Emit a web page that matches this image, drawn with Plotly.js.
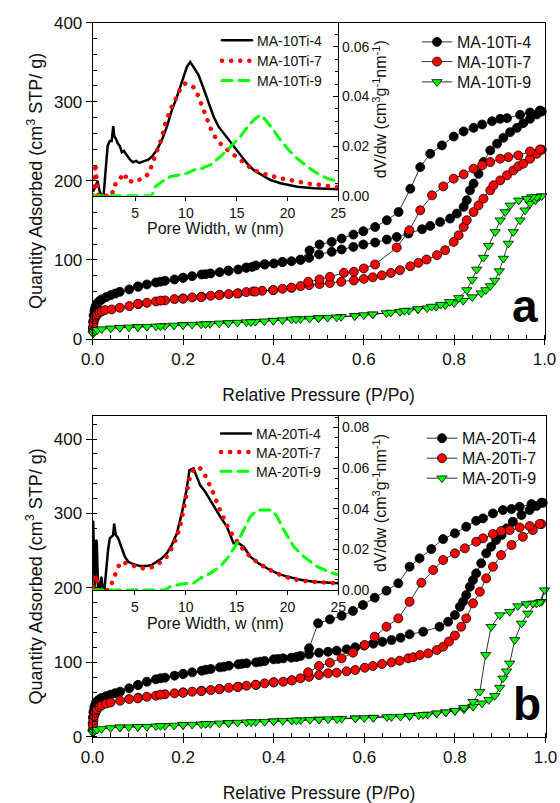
<!DOCTYPE html>
<html>
<head>
<meta charset="utf-8">
<script src="https://cdn.plot.ly/plotly-3.0.1.min.js"></script>
<style>
html,body{margin:0;padding:0;background:#fff;}
#chart{width:560px;height:803px;}
path.js-line{stroke-linecap:round;}
</style>
</head>
<body>
<div id="chart"></div>
<script>
// ---------- Panel (a): MA-10Ti isotherms ----------
const a4_ads_x = [0.0005,0.001,0.002,0.004,0.006,0.008,0.01,0.015,0.02,0.03,0.04,0.05,0.06,0.081,0.101,0.120,0.140,0.160,0.181,0.200,0.220,0.241,0.261,0.281,0.301,0.322,0.340,0.353,0.361,0.381,0.401,0.420,0.440,0.460,0.479,0.501,0.529,0.551,0.577,0.599,0.625,0.651,0.673,0.699,0.729,0.747,0.769,0.791,0.806,0.821,0.828,0.835,0.843,0.854,0.865,0.880,0.895,0.909,0.924,0.939,0.953,0.968,0.983,0.994];
const a4_ads_y = [14,22,30,36,40,43,45,48,50,53,55.5,57.5,59.7,62.7,66.0,69.0,71.5,73.6,75.3,77.4,79.5,81.6,82.9,84.5,86.2,87.9,90.0,91.2,93.0,94.2,95.5,97.2,98.4,100.0,102.6,107.0,110.2,113.2,116.5,119.5,122.0,125.8,129.1,133.4,138.8,143.0,148.0,152.3,158.6,167.0,175.4,188.0,196.5,209.0,223.7,238.5,247.0,254.5,261.6,267.0,273.0,278.5,284.0,287.7];
const a4_des_x = [0.990,0.968,0.946,0.917,0.902,0.884,0.862,0.843,0.821,0.799,0.773,0.747,0.725,0.703,0.677,0.651,0.625,0.599,0.577,0.551,0.529,0.502,0.480,0.46,0.42,0.38,0.34,0.30,0.25,0.20,0.15,0.10];
const a4_des_y = [289,286.4,283.5,279.3,278.5,275.5,271.3,267,262.5,256,244.8,234.3,217.4,190,160.6,150.2,141.7,136.3,132,127,122.8,119.5,112,100.5,97.5,94.5,90.5,86.5,82,77.5,72.5,66.5];

const a7_ads_x = [0.0005,0.001,0.002,0.004,0.006,0.008,0.01,0.015,0.02,0.027,0.042,0.060,0.081,0.101,0.120,0.140,0.160,0.181,0.200,0.220,0.241,0.261,0.281,0.301,0.322,0.340,0.355,0.375,0.399,0.420,0.440,0.460,0.479,0.502,0.525,0.550,0.578,0.600,0.620,0.640,0.660,0.680,0.703,0.721,0.739,0.762,0.780,0.799,0.810,0.821,0.828,0.843,0.854,0.865,0.880,0.887,0.902,0.917,0.931,0.942,0.953,0.968,0.983,0.994];
const a7_ads_y = [10,15,20,25,28,30,31.5,33.5,35,36.6,37.4,39.5,41.6,44.2,45.8,47.5,48.8,50.5,51.3,52.6,53.4,54.7,56,56.8,57.7,59.3,60.2,61,61.8,63.5,64.8,66.9,68.1,69.5,70.8,72.3,74,76,78,80.5,83.5,87,92,96.3,100.5,106,112.3,122.8,131.2,141.7,150.2,160.6,169,177.5,188,194.3,200.6,207,213.2,218.3,221.7,228,234.3,239.4];
const a7_des_x = [0.990,0.968,0.942,0.920,0.902,0.880,0.862,0.843,0.821,0.799,0.776,0.751,0.725,0.701,0.673,0.625,0.600,0.578,0.556,0.525,0.502,0.477,0.44,0.40,0.36,0.32,0.28,0.24,0.20,0.15,0.10];
const a7_des_y = [239.7,237.2,232.2,230,228,223.7,219.6,215.4,208.2,202.8,193,181.7,162.8,137.5,115.7,94.2,89.2,85,83.7,78.6,75.3,72.3,65,62,60,57.5,55.5,53,51,48.5,44.5];

const a9_ads_x = [0.001,0.003,0.006,0.01,0.02,0.04,0.06,0.08,0.10,0.12,0.14,0.16,0.18,0.20,0.22,0.24,0.26,0.28,0.30,0.32,0.34,0.36,0.38,0.40,0.42,0.44,0.46,0.48,0.50,0.52,0.55,0.58,0.60,0.62,0.65,0.68,0.70,0.72,0.74,0.76,0.78,0.80,0.82,0.84,0.86,0.87,0.88,0.89,0.90,0.909,0.920,0.931,0.946,0.957,0.968,0.980,0.987,0.994];
const a9_ads_y = [7,9,10.5,11.5,12.5,13.5,14.3,14.8,15.2,15.5,16,16.5,17.2,17.7,18.2,18.7,19.2,19.8,20.2,20.8,21.3,21.9,22.5,23.2,23.9,24.8,25.3,25.9,26.5,27,28,29.2,30.3,31.2,32.8,34.5,36,37.5,39,41,43,45.5,48.5,53,58,62,67,74,86,101.8,120.8,135.4,150.2,162.8,171.2,175.4,179.6,180.9];
const a9_des_x = [0.983,0.972,0.961,0.943,0.924,0.913,0.902,0.891,0.876,0.865,0.85,0.84,0.828,0.81,0.79,0.77,0.75,0.72,0.69,0.66,0.62,0.58,0.54,0.50,0.45,0.40,0.35,0.30,0.25,0.20,0.15,0.10,0.06];
const a9_des_y = [179.6,179.6,177.5,175.4,169,160.6,150.2,135.4,118,103,88,75,62,52,47,43.5,41,38,35.8,33.5,31.2,29.2,27.5,26.5,25,23.2,21.5,20.2,18.9,17.7,16.2,15.2,14.3];

// ---------- Panel (a) inset: pore size distributions ----------
const ia4_x = [0.9,1.1,1.3,1.5,1.7,1.9,2.1,2.3,2.5,2.7,2.85,2.95,3.1,3.3,3.5,3.7,3.9,4.2,4.5,4.8,5.1,5.4,5.7,6.0,6.3,6.65,7.14,7.64,8.13,8.62,9.12,9.61,10.1,10.43,10.76,11.25,11.74,12.24,12.73,13.22,13.72,14.21,14.7,15.37,16.02,16.68,17.5,18.33,19.31,20.96,22.6,25];
const ia4_y = [0.002,0.0035,0.006,0.002,0,0,0.01,0.02,0.022,0.022,0.028,0.024,0.023,0.021,0.02,0.0175,0.018,0.016,0.0145,0.0135,0.014,0.0132,0.0136,0.0138,0.0145,0.0157,0.0184,0.0224,0.0278,0.0345,0.0398,0.0459,0.0519,0.0539,0.0519,0.0486,0.0432,0.0372,0.0318,0.0278,0.0251,0.0224,0.0197,0.0164,0.013,0.0103,0.0083,0.0063,0.005,0.0036,0.003,0.0026];
const ia7_x = [0.9,1.0,1.1,1.25,1.4,1.7,2.0,2.3,2.6,2.75,2.86,3.03,3.19,3.36,3.52,3.68,3.85,4.01,4.18,4.4,4.67,4.9,5.16,5.4,5.66,5.9,6.15,6.4,6.65,6.98,7.31,7.64,7.97,8.29,8.62,9.12,9.5,9.94,10.43,10.93,11.25,11.58,11.91,12.24,12.57,13.06,13.72,14.54,15.37,16.02,16.68,17.5,18.33,19.31,20.3,21.3,22.28,23.27,24.26,25];
const ia7_y = [0,0.006,0.013,0.005,0,0,0,0,0,0,0.004,0.0043,0.0056,0.0063,0.007,0.0077,0.0083,0.009,0.006,0.0063,0.0056,0.0056,0.0063,0.0063,0.0066,0.0072,0.008,0.0092,0.0124,0.0157,0.0197,0.0235,0.029,0.0325,0.036,0.04,0.0435,0.0452,0.0445,0.0432,0.0398,0.0358,0.0325,0.0291,0.0258,0.0224,0.0197,0.017,0.0144,0.0124,0.0103,0.009,0.0079,0.007,0.0063,0.0053,0.0047,0.0043,0.0036,0.0034];
const ia9_x = [0.9,2,3,4,5,6,6.65,6.98,7.64,8.46,9.28,10.1,10.76,11.58,12.4,13.39,14.38,15.37,16.2,16.85,17.35,17.84,18.5,19.31,20.13,20.96,21.94,22.93,23.91,25];
const ia9_y = [0,0,0,0,0,0,0,0.0036,0.0056,0.0077,0.0083,0.009,0.0103,0.011,0.0124,0.0157,0.0197,0.0238,0.0285,0.0311,0.0325,0.0305,0.0271,0.0224,0.0184,0.015,0.0117,0.009,0.007,0.0056];

// ---------- Panel (b): MA-20Ti isotherms ----------
const b4_ads_x = [0.0005,0.001,0.002,0.004,0.006,0.008,0.01,0.015,0.02,0.03,0.04,0.05,0.061,0.081,0.101,0.120,0.140,0.160,0.181,0.200,0.220,0.241,0.261,0.281,0.301,0.322,0.340,0.361,0.380,0.400,0.421,0.439,0.459,0.478,0.500,0.520,0.539,0.561,0.580,0.600,0.620,0.640,0.660,0.680,0.700,0.730,0.766,0.785,0.800,0.811,0.818,0.825,0.833,0.840,0.847,0.858,0.869,0.880,0.891,0.903,0.914,0.928,0.947,0.965,0.980,0.994];
const b4_ads_y = [18,26,33,39,43,46,47.5,50,52,54.5,56.5,58.5,60.5,65,69.5,73.9,77.1,79.3,82,84.2,86.5,88.7,91,93.2,95.4,97.3,98.6,99.9,101.7,104,105.3,106.2,108.4,110.7,112.9,114.2,115.6,117.4,120.1,122.5,125,127.5,130,133,137.6,141.1,147.8,154.5,163.5,174.7,181.4,190.4,201.5,210.5,219.5,233,246.4,255.3,264.3,271,280,288.9,297.9,304.6,310,314.4];
const b4_des_x = [0.991,0.969,0.943,0.925,0.906,0.884,0.862,0.847,0.825,0.800,0.774,0.748,0.722,0.700,0.675,0.649,0.623,0.597,0.575,0.550,0.524,0.498,0.478,0.45,0.41,0.37,0.33,0.29,0.25,0.20,0.15,0.10];
const b4_des_y = [314.4,312.6,309,306,304.6,300.1,293.4,290.2,282.2,273.3,265.6,252.2,239.7,228.4,206.1,196.2,186.8,177,169,162.6,157.7,152.4,118.8,107,104.5,100.8,98,94,90,84.5,78.5,69.5];

const b7_ads_x = [0.0005,0.001,0.002,0.004,0.006,0.008,0.01,0.015,0.02,0.03,0.04,0.061,0.081,0.101,0.120,0.140,0.160,0.181,0.200,0.220,0.241,0.261,0.281,0.301,0.322,0.340,0.361,0.380,0.400,0.421,0.440,0.459,0.478,0.500,0.520,0.539,0.561,0.580,0.601,0.619,0.639,0.660,0.678,0.697,0.708,0.723,0.741,0.760,0.774,0.787,0.800,0.814,0.825,0.840,0.855,0.869,0.884,0.902,0.925,0.950,0.972,0.991];
const b7_ads_y = [10,16,22,28,32,35,37,40,42,44.5,46,48.4,50.6,52.4,53.7,55.1,57,58.3,59.6,60.5,61.8,62.7,64.1,65.8,67.2,68.5,69.5,71.7,73.1,73.9,76,78.5,80.6,82.9,85.2,86,87.9,89.6,92.7,95,97.7,100,102.1,105.3,106.7,109.8,112,116.5,121,128,136,147.8,159,179.2,194.8,212.8,228.4,244.1,257.6,268.7,277.7,285.8];
const b7_des_x = [0.987,0.965,0.943,0.921,0.902,0.884,0.862,0.847,0.822,0.800,0.774,0.752,0.726,0.700,0.675,0.649,0.623,0.601,0.575,0.550,0.524,0.500,0.476,0.44,0.40,0.36,0.32,0.28,0.24,0.20,0.15,0.10];
const b7_des_y = [285.8,283.1,281.3,277.7,276.4,272.3,266.6,262,253.1,246.4,237.4,224,206.9,181.4,159,147.8,134.4,123.2,112.9,105.3,99.5,95,86.5,75.5,73,69.8,66.8,64,61.2,59,56.5,51.5];

const b9_ads_x = [0.001,0.003,0.006,0.01,0.02,0.04,0.061,0.08,0.10,0.12,0.14,0.16,0.18,0.20,0.22,0.24,0.26,0.28,0.30,0.32,0.34,0.36,0.38,0.40,0.42,0.44,0.46,0.48,0.50,0.52,0.55,0.58,0.60,0.62,0.65,0.68,0.70,0.72,0.74,0.76,0.78,0.80,0.82,0.84,0.86,0.875,0.888,0.899,0.906,0.914,0.921,0.932,0.947,0.961,0.980,0.991,0.998];
const b9_ads_y = [5,7,8.5,9.5,10.5,11.7,12.6,12.9,13.2,13.4,14,14.6,15.1,15.7,16.3,16.8,17.4,18,18.5,19,19.4,19.7,20.2,20.8,21.5,21.8,22.3,22.8,23.2,23.6,24.3,24.8,25.2,25.7,26.4,27,27.8,28.8,30,31.3,32.8,34.5,37,40.5,45,49.5,55,66,78.5,88,98.6,130,152.3,165.8,179.2,181.4,197];
const b9_des_x = [0.987,0.972,0.958,0.939,0.921,0.899,0.880,0.868,0.855,0.84,0.82,0.80,0.78,0.76,0.73,0.70,0.66,0.62,0.58,0.54,0.50,0.45,0.40,0.35,0.30,0.25,0.20,0.15,0.10,0.06];
const b9_des_y = [180.6,179.2,178.3,175.6,168,163.5,147.8,110,60.5,47,39,35,33,31.5,29.5,28,26.5,25.5,24.7,23.8,23,22,20.8,19.6,18.5,17.2,15.9,14.6,13.3,12.7];

// ---------- Panel (b) inset ----------
const ib4_x = [0.9,1.05,1.15,1.25,1.38,1.5,1.7,1.85,2.0,2.2,2.36,2.53,2.86,2.96,3.12,3.36,3.68,4.01,4.34,4.83,5.49,6.15,6.65,7.14,7.64,8.13,8.62,9.12,9.61,10.04,10.37,10.76,11.09,11.41,11.91,12.57,13.39,14.05,14.7,15.2,15.69,16.35,17.17,17.99,18.98,19.97,21.28,22.6,23.91,25];
const ib4_y = [0.0336,0,0.0246,0.024,0,0,0.0066,0,0,0.012,0.0197,0.0254,0.027,0.0326,0.027,0.0254,0.0213,0.0164,0.0139,0.0127,0.0118,0.0118,0.0123,0.0139,0.0156,0.018,0.0221,0.0278,0.0377,0.0483,0.059,0.0598,0.0557,0.0516,0.0483,0.0426,0.0361,0.0311,0.023,0.023,0.0213,0.0164,0.0131,0.0107,0.0082,0.0066,0.005,0.0041,0.0036,0.0033];
const ib7_x = [0.9,1.05,1.22,1.38,1.6,2.0,2.3,2.53,2.86,3.03,3.36,3.68,4.18,4.67,5.16,5.66,6.15,6.65,7.14,7.64,8.13,8.46,8.79,9.12,9.44,9.77,10.04,10.37,10.76,11.25,11.74,12.24,12.73,13.22,13.72,14.21,14.7,15.2,15.69,16.35,17.17,18.15,19.31,20.63,22.28,23.91,25];
const ib7_y = [0.0016,0.0049,0.0074,0,0,0,0,0.0008,0.0049,0.0082,0.0115,0.0139,0.0131,0.0123,0.0115,0.0107,0.0107,0.0112,0.0127,0.0139,0.0164,0.0188,0.0221,0.0262,0.0311,0.0393,0.0459,0.0549,0.059,0.0606,0.0582,0.0533,0.0475,0.041,0.0352,0.0303,0.0262,0.023,0.0197,0.0164,0.0131,0.0102,0.0074,0.0052,0.0041,0.0036,0.0033];
const ib9_x = [0.9,2,3,4,5,6,7,8,8.46,9.12,10.1,10.76,11.41,12.4,13.39,14.21,15.04,15.69,16.35,17.01,17.66,18.48,18.98,19.64,20.63,21.61,22.93,24.08,25];
const ib9_y = [0,0,0,0,0,0,0,0,0.0016,0.0025,0.0033,0.0033,0.0057,0.0082,0.0115,0.0164,0.023,0.0295,0.0361,0.0393,0.0393,0.0393,0.0361,0.0295,0.0213,0.0164,0.0115,0.009,0.0074];

// labels
const namesA = ['MA-10Ti-4','MA-10Ti-7','MA-10Ti-9'];
const namesB = ['MA-20Ti-4','MA-20Ti-7','MA-20Ti-9'];
const xTicks = [0,0.2,0.4,0.6,0.8,1.0];
const yTicks = [0,100,200,300,400];
const wTicks = [5,10,15,20,25];
const psdTicksA = [0,0.02,0.04,0.06];
const psdTicksB = [0,0.02,0.04,0.06,0.08];

// ---------- styling ----------
const FONT = 'Liberation Sans, Arial, sans-serif';
const W = 560, H = 803;
const px = v => v / W;
const py = v => 1 - v / H;
const RED = '#ff0000', GREEN = '#00ff00';

const styles = [
  {symbol:'circle', color:'#000000', size:9},
  {symbol:'circle', color:RED, size:9},
  {symbol:'triangle-down', color:GREEN, size:9}
];
const psdStyles = [
  {color:'#000000', width:2.5, dash:'solid'},
  {color:RED, width:4.5, dash:'0.1px,9px'},
  {color:GREEN, width:3, dash:'10px,7px'}
];

function iso(name, ax, ay, dx, dy, st, xa, ya, leg) {
  return {
    type:'scatter', mode:'lines+markers', name:name,
    x: ax.concat(dx), y: ay.concat(dy),
    xaxis:xa, yaxis:ya, legend:leg, cliponaxis:false,
    line:{color:'#000000', width:0.8},
    marker:{symbol:st.symbol, size:st.size, color:st.color, line:{color:'#000000', width:0.8}}
  };
}
function psd(name, x, y, st, xa, ya, leg) {
  return {
    type:'scatter', mode:'lines', name:name, x:x, y:y,
    xaxis:xa, yaxis:ya, legend:leg,
    line:{color:st.color, width:st.width, dash:st.dash}
  };
}

// one legend box per row so that the row spacing matches the figure
const legA  = ['legend','legend2','legend3'];
const legIA = ['legend4','legend5','legend6'];
const legB  = ['legend7','legend8','legend9'];
const legIB = ['legend10','legend11','legend12'];

const data = [
  iso(namesA[0], a4_ads_x, a4_ads_y, a4_des_x, a4_des_y, styles[0], 'x', 'y', legA[0]),
  iso(namesA[1], a7_ads_x, a7_ads_y, a7_des_x, a7_des_y, styles[1], 'x', 'y', legA[1]),
  iso(namesA[2], a9_ads_x, a9_ads_y, a9_des_x, a9_des_y, styles[2], 'x', 'y', legA[2]),
  psd(namesA[0], ia4_x, ia4_y, psdStyles[0], 'x3', 'y3', legIA[0]),
  psd(namesA[1], ia7_x, ia7_y, psdStyles[1], 'x3', 'y3', legIA[1]),
  psd(namesA[2], ia9_x, ia9_y, psdStyles[2], 'x3', 'y3', legIA[2]),
  iso(namesB[0], b4_ads_x, b4_ads_y, b4_des_x, b4_des_y, styles[0], 'x2', 'y2', legB[0]),
  iso(namesB[1], b7_ads_x, b7_ads_y, b7_des_x, b7_des_y, styles[1], 'x2', 'y2', legB[1]),
  iso(namesB[2], b9_ads_x, b9_ads_y, b9_des_x, b9_des_y, styles[2], 'x2', 'y2', legB[2]),
  psd(namesB[0], ib4_x, ib4_y, psdStyles[0], 'x4', 'y4', legIB[0]),
  psd(namesB[1], ib7_x, ib7_y, psdStyles[1], 'x4', 'y4', legIB[1]),
  psd(namesB[2], ib9_x, ib9_y, psdStyles[2], 'x4', 'y4', legIB[2])
];

function mainX(domain, anchor) {
  return {
    domain:domain, anchor:anchor, range:[0,1], showgrid:false, zeroline:false,
    showline:true, linecolor:'#000', linewidth:1, mirror:true,
    tickvals:xTicks, ticktext:xTicks.map(v=>v.toFixed(1)), ticks:'outside', ticklen:5, tickcolor:'#000',
    tickfont:{family:FONT, size:17, color:'#111'},
    minor:{dtick:0.04, ticks:'inside', ticklen:4, tickcolor:'#000', showgrid:false},
    title:{text:'Relative Pressure (P/Po)', font:{family:FONT, size:17.5, color:'#111'}, standoff:20}
  };
}
function mainY(domain, anchor, top) {
  return {
    domain:domain, anchor:anchor, range:[0,top], showgrid:false, zeroline:false,
    showline:true, linecolor:'#000', linewidth:1, mirror:true,
    tickvals:yTicks, ticks:'outside', ticklen:6, tickcolor:'#000',
    tickfont:{family:FONT, size:17, color:'#111'},
    minor:{dtick:20, ticks:'inside', ticklen:4, tickcolor:'#000', showgrid:false},
    title:{text:'Quantity Adsorbed (cm<sup>3</sup> STP/ g)', font:{family:FONT, size:18, color:'#111'}, standoff:6}
  };
}
function insetX(domain, anchor) {
  return {
    domain:domain, anchor:anchor, range:[0.83,25], showgrid:false, zeroline:false,
    showline:true, linecolor:'#000', linewidth:1,
    tickvals:wTicks, ticks:'outside', ticklen:4, tickcolor:'#000',
    tickfont:{family:FONT, size:14, color:'#111'},
    title:{text:'Pore Width, w (nm)', font:{family:FONT, size:16, color:'#111'}, standoff:2}
  };
}
function insetY(domain, anchor, top, tv) {
  return {
    domain:domain, anchor:anchor, side:'right', range:[0,top], showgrid:false, zeroline:false,
    showline:true, linecolor:'#000', linewidth:1,
    tickvals:tv, tickformat:'.2f', ticks:'inside', ticklen:5, tickcolor:'#000',
    tickfont:{family:FONT, size:14, color:'#111'},
    minor:{dtick:0.005, ticks:'inside', ticklen:3, tickcolor:'#000', showgrid:false},
    title:{text:'dV/dw (cm<sup>3</sup>g<sup>-1</sup>nm<sup>-1</sup>)', font:{family:FONT, size:16, color:'#111'}, standoff:6}
  };
}

function legendBox(xLeft, yMid, size) {
  return {x:px(xLeft), y:py(yMid), xanchor:'left', yanchor:'middle', bgcolor:'rgba(0,0,0,0)',
          borderwidth:0, font:{family:FONT, size:size, color:'#111'}};
}

const layout = {
  width:W, height:H, margin:{l:0, r:0, t:0, b:0},
  paper_bgcolor:'#ffffff', plot_bgcolor:'rgba(0,0,0,0)',
  font:{family:FONT, color:'#111'},
  showlegend:true,
  xaxis: mainX([px(92.7), px(544.5)], 'y'),
  yaxis: mainY([py(339), py(22.7)], 'x', 400),
  xaxis2: mainX([px(92.5), px(545.5)], 'y2'),
  yaxis2: mainY([py(736.7), py(416)], 'x2', 431),
  xaxis3: insetX([px(92.7), px(338.3)], 'y3'),
  yaxis3: insetY([py(195.7), py(22.7)], 'x3', 0.0697, psdTicksA),
  xaxis4: insetX([px(92.5), px(338.3)], 'y4'),
  yaxis4: insetY([py(590), py(416)], 'x4', 0.0856, psdTicksB),
  annotations:[
    {text:'<b>a</b>', x:px(525), y:py(306), xref:'paper', yref:'paper', xanchor:'center', yanchor:'middle', showarrow:false, font:{family:FONT, size:46, color:'#000'}},
    {text:'<b>b</b>', x:px(527), y:py(704), xref:'paper', yref:'paper', xanchor:'center', yanchor:'middle', showarrow:false, font:{family:FONT, size:46, color:'#000'}}
  ]
};
const rowsA  = [42, 61.7, 82];
const rowsIA = [40.7, 61.2, 81];
const rowsB  = [438.3, 458.3, 478.3];
const rowsIB = [434, 452.5, 471.7];
for (let i = 0; i < 3; i++) {
  layout[legA[i]]  = legendBox(417, rowsA[i], 16);
  layout[legIA[i]] = legendBox(217, rowsIA[i], 14);
  layout[legB[i]]  = legendBox(422, rowsB[i], 16);
  layout[legIB[i]] = legendBox(216, rowsIB[i], 14);
}

Plotly.newPlot('chart', data, layout, {staticPlot:true, displayModeBar:false});
</script>
</body>
</html>
